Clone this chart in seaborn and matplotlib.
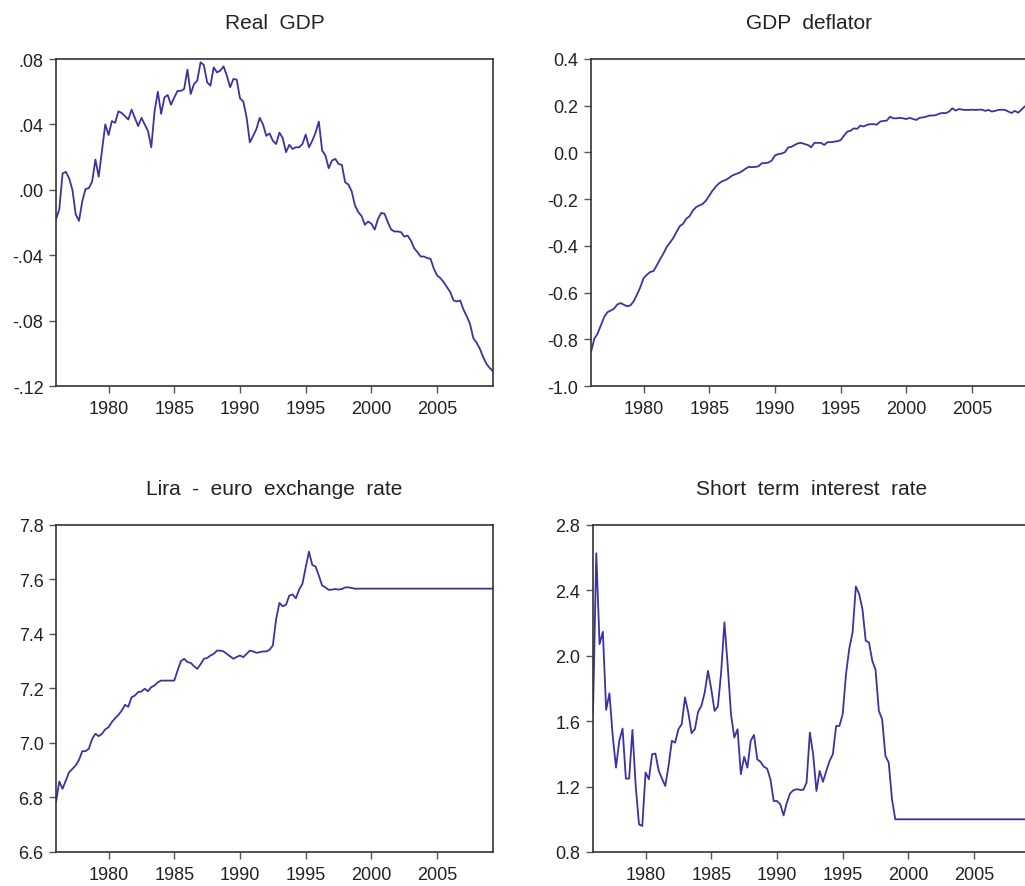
import numpy as np
import pandas as pd
import matplotlib
matplotlib.use("Agg")
import matplotlib.pyplot as plt
from matplotlib.ticker import FixedLocator, FuncFormatter
import seaborn as sns

# Quarterly sample 1976Q1 - 2009Q2
start_year = 1976.0
n_obs = 134
dates = start_year + np.arange(n_obs) / 4.0

real_gdp = [
    -0.018, -0.012, 0.010, 0.011, 0.007, 0.000, -0.015, -0.019, -0.007, 0.0005,
    0.001, 0.005, 0.0185, 0.008, 0.024, 0.040, 0.0335, 0.042, 0.041, 0.048,
    0.047, 0.045, 0.043, 0.049, 0.044, 0.039, 0.044, 0.040, 0.036, 0.026,
    0.048, 0.060, 0.0465, 0.0565, 0.058, 0.052, 0.0565, 0.0605, 0.0605, 0.0617,
    0.0735, 0.0586, 0.0647, 0.0668, 0.078, 0.0763, 0.0657, 0.0637, 0.0749, 0.0718,
    0.0729, 0.0755, 0.0698, 0.0627, 0.0678, 0.0674, 0.056, 0.054, 0.0444, 0.029,
    0.033, 0.0372, 0.044, 0.040, 0.033, 0.0345, 0.030, 0.028, 0.035, 0.0317,
    0.023, 0.0275, 0.025, 0.026, 0.026, 0.028, 0.0338, 0.026, 0.030, 0.035,
    0.0417, 0.024, 0.021, 0.0132, 0.0179, 0.0189, 0.0158, 0.0152, 0.0046, 0.0032,
    -0.001, -0.0096, -0.0137, -0.016, -0.0214, -0.0194, -0.0208, -0.0243, -0.0178, -0.0141,
    -0.0147, -0.0198, -0.0243, -0.0255, -0.0255, -0.0259, -0.0286, -0.028, -0.031, -0.0357,
    -0.0381, -0.0408, -0.0408, -0.0418, -0.0422, -0.0483, -0.0524, -0.054, -0.0565, -0.0595,
    -0.0626, -0.0677, -0.0683, -0.0677, -0.0732, -0.0773, -0.082, -0.0907, -0.0935, -0.0972,
    -0.1023, -0.1064, -0.109, -0.111,
]

gdp_deflator = [
    -0.855, -0.798, -0.776, -0.741, -0.705, -0.684, -0.677, -0.669, -0.651, -0.645,
    -0.652, -0.659, -0.655, -0.637, -0.609, -0.577, -0.538, -0.524, -0.512, -0.508,
    -0.484, -0.458, -0.434, -0.406, -0.387, -0.367, -0.341, -0.316, -0.306, -0.284,
    -0.273, -0.249, -0.234, -0.227, -0.220, -0.206, -0.185, -0.163, -0.146, -0.132,
    -0.123, -0.118, -0.109, -0.099, -0.093, -0.088, -0.080, -0.070, -0.062, -0.063,
    -0.062, -0.059, -0.046, -0.046, -0.043, -0.035, -0.013, -0.007, -0.005, 0.001,
    0.021, 0.024, 0.032, 0.039, 0.041, 0.036, 0.032, 0.022, 0.041, 0.041,
    0.041, 0.032, 0.044, 0.044, 0.046, 0.048, 0.053, 0.072, 0.089, 0.093,
    0.103, 0.101, 0.115, 0.111, 0.118, 0.121, 0.121, 0.119, 0.132, 0.135,
    0.136, 0.153, 0.146, 0.146, 0.148, 0.146, 0.143, 0.148, 0.143, 0.139,
    0.148, 0.150, 0.153, 0.158, 0.158, 0.160, 0.166, 0.169, 0.168, 0.175,
    0.189, 0.179, 0.186, 0.183, 0.182, 0.182, 0.183, 0.182, 0.183, 0.183,
    0.178, 0.182, 0.175, 0.178, 0.182, 0.183, 0.182, 0.175, 0.169, 0.178,
    0.170, 0.183, 0.197, 0.200,
]

lira_euro = [
    6.783, 6.859, 6.832, 6.863, 6.893, 6.905, 6.918, 6.938, 6.970, 6.970,
    6.979, 7.015, 7.034, 7.025, 7.034, 7.050, 7.058, 7.077, 7.091, 7.103,
    7.119, 7.140, 7.133, 7.168, 7.174, 7.187, 7.189, 7.199, 7.190, 7.205,
    7.211, 7.223, 7.229, 7.229, 7.229, 7.229, 7.229, 7.266, 7.300, 7.309,
    7.297, 7.294, 7.282, 7.272, 7.289, 7.309, 7.312, 7.321, 7.327, 7.339,
    7.339, 7.336, 7.327, 7.318, 7.309, 7.316, 7.321, 7.315, 7.327, 7.339,
    7.336, 7.331, 7.333, 7.336, 7.336, 7.342, 7.358, 7.455, 7.514, 7.502,
    7.507, 7.541, 7.545, 7.531, 7.563, 7.584, 7.645, 7.702, 7.653, 7.648,
    7.614, 7.578, 7.571, 7.562, 7.563, 7.565, 7.563, 7.565, 7.571, 7.571,
    7.569, 7.566,
] + [7.5665] * 42

short_rate = [
    1.653, 2.627, 2.071, 2.147, 1.669, 1.771, 1.510, 1.316, 1.480, 1.555,
    1.249, 1.249, 1.547, 1.204, 0.969, 0.959, 1.286, 1.245, 1.398, 1.402,
    1.296, 1.249, 1.204, 1.327, 1.480, 1.469, 1.551, 1.582, 1.745, 1.653,
    1.527, 1.551, 1.659, 1.694, 1.776, 1.908, 1.796, 1.663, 1.690, 1.898,
    2.204, 1.939, 1.643, 1.500, 1.551, 1.276, 1.382, 1.316, 1.480, 1.516,
    1.367, 1.351, 1.322, 1.310, 1.245, 1.112, 1.112, 1.092, 1.024, 1.102,
    1.159, 1.178, 1.184, 1.180, 1.180, 1.224, 1.531, 1.398, 1.173, 1.296,
    1.229, 1.296, 1.357, 1.398, 1.571, 1.571, 1.643, 1.888, 2.045, 2.143,
    2.424, 2.378, 2.286, 2.092, 2.082, 1.969, 1.914, 1.663, 1.612, 1.388,
    1.347, 1.122,
] + [1.0] * 42

panel_titles = ["Real  GDP", "GDP  deflator", "Lira  -  euro  exchange  rate",
                "Short  term  interest  rate"]
x_ticks = [1980, 1985, 1990, 1995, 2000, 2005]
y_ticks = [
    [0.08, 0.04, 0.00, -0.04, -0.08, -0.12],
    [0.4, 0.2, 0.0, -0.2, -0.4, -0.6, -0.8, -1.0],
    [7.8, 7.6, 7.4, 7.2, 7.0, 6.8, 6.6],
    [2.8, 2.4, 2.0, 1.6, 1.2, 0.8],
]


def fmt_dot(v, _pos):
    s = f"{v:.2f}"
    s = s.replace("0.", ".")
    return s


def fmt_one(v, _pos):
    s = f"{v:.1f}"
    if s == "-0.0":
        s = "0.0"
    return s


sns.set_style("white")
plt.rcParams["font.family"] = ["Liberation Sans", "DejaVu Sans"]

W, H = 1025, 887
fig = plt.figure(figsize=(W / 100, H / 100), dpi=100)

line_color = "#3a34a2"
spine_color = "#333333"

# axes rectangles in pixels: left, top, width, height
rects = [(56, 60, 437, 327), (591, 60, 437, 327),
         (56, 526, 437, 327), (593, 526, 437, 327)]
series = [real_gdp, gdp_deflator, lira_euro, short_rate]
formatters = [fmt_dot, fmt_one, fmt_one, fmt_one]

for k in range(4):
    l, t, w, h = rects[k]
    ax = fig.add_axes([l / W, 1 - (t + h) / H, w / W, h / H])
    df = pd.DataFrame({"date": dates, "value": series[k]})
    sns.lineplot(data=df, x="date", y="value", ax=ax, color=line_color,
                 linewidth=1.3)
    ax.set_xlim(dates[0], dates[-1])
    ax.set_ylim(min(y_ticks[k]), max(y_ticks[k]))
    ax.xaxis.set_major_locator(FixedLocator(x_ticks))
    ax.yaxis.set_major_locator(FixedLocator(y_ticks[k]))
    ax.xaxis.set_major_formatter(FuncFormatter(lambda v, p: f"{int(round(v))}"))
    ax.yaxis.set_major_formatter(FuncFormatter(formatters[k]))
    ax.set_xlabel("")
    ax.set_ylabel("")
    ax.set_title(panel_titles[k], fontsize=15, color="#222222", pad=22)
    for sp in ax.spines.values():
        sp.set_color(spine_color)
        sp.set_linewidth(1.2)
    ax.tick_params(axis="both", which="major", direction="out", length=5,
                   width=1.0, color="#555555", labelsize=13,
                   labelcolor="#222222", left=True, bottom=True,
                   top=False, right=False)
    ax.tick_params(axis="x", pad=5)
    ax.tick_params(axis="y", pad=4)
    ax.grid(False)

fig.savefig("out.png", dpi=100)
